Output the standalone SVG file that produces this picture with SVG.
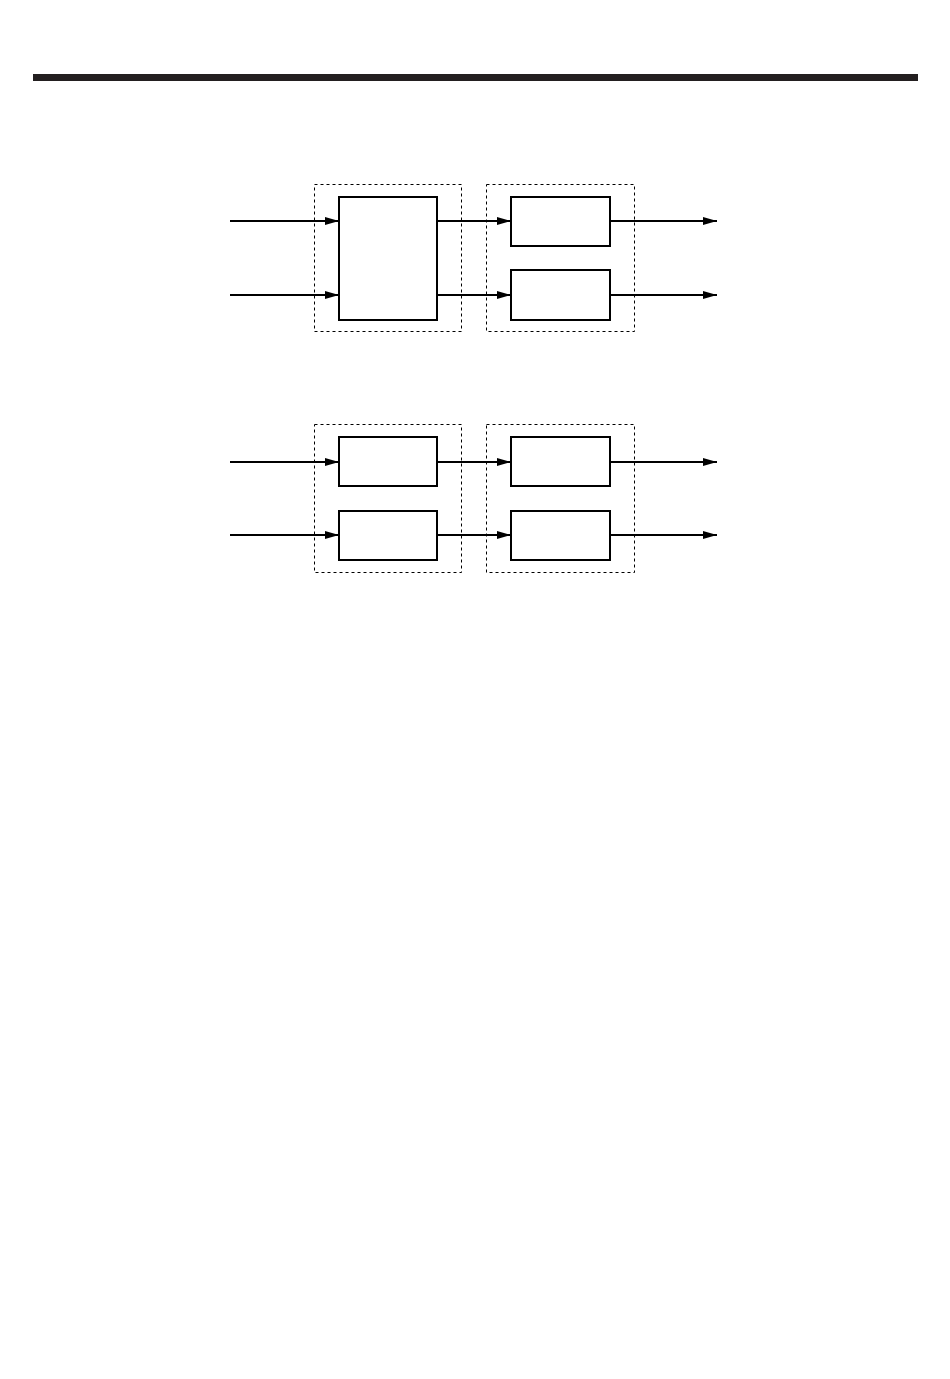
<svg xmlns="http://www.w3.org/2000/svg" width="950" height="1379" viewBox="0 0 950 1379">
<style>
.blk{fill:#fff;stroke:#000;stroke-width:2}
.grp{fill:none;stroke:#000;stroke-width:1;stroke-dasharray:3,3}
.wire{fill:none;stroke:#000;stroke-width:2}
</style>
<defs>
<marker id="ah" viewBox="0 0 14 8" refX="14" refY="4" markerWidth="14" markerHeight="8" markerUnits="userSpaceOnUse" orient="auto">
<path d="M0,0 L14,4 L0,8 Z" fill="#000"/>
</marker>
</defs>
<rect width="950" height="1379" fill="#fff"/>
<rect id="topbar" x="33" y="74" width="885" height="7" fill="#231f20"/>
<g id="top-group1"><rect class="grp" x="314.5" y="184.5" width="147" height="147"/></g>
<g id="top-group2"><rect class="grp" x="486.5" y="184.5" width="148" height="147"/></g>
<g id="top-big"><rect class="blk" x="339" y="197" width="98" height="123"/></g>
<g id="top-r1"><rect class="blk" x="511" y="197" width="99" height="49"/></g>
<g id="top-r2"><rect class="blk" x="511" y="270" width="99" height="50"/></g>
<g id="bot-group1"><rect class="grp" x="314.5" y="424.5" width="147" height="148"/></g>
<g id="bot-group2"><rect class="grp" x="486.5" y="424.5" width="148" height="148"/></g>
<g id="bot-l1"><rect class="blk" x="339" y="437" width="98" height="49"/></g>
<g id="bot-l2"><rect class="blk" x="339" y="511" width="98" height="49"/></g>
<g id="bot-r1"><rect class="blk" x="511" y="437" width="99" height="49"/></g>
<g id="bot-r2"><rect class="blk" x="511" y="511" width="99" height="49"/></g>
<g id="connectors">
<line class="wire" x1="230" y1="221" x2="339" y2="221" marker-end="url(#ah)"/>
<line class="wire" x1="230" y1="295" x2="339" y2="295" marker-end="url(#ah)"/>
<line class="wire" x1="437" y1="221" x2="511" y2="221" marker-end="url(#ah)"/>
<line class="wire" x1="437" y1="295" x2="511" y2="295" marker-end="url(#ah)"/>
<line class="wire" x1="610" y1="221" x2="717" y2="221" marker-end="url(#ah)"/>
<line class="wire" x1="610" y1="295" x2="717" y2="295" marker-end="url(#ah)"/>
<line class="wire" x1="230" y1="462" x2="339" y2="462" marker-end="url(#ah)"/>
<line class="wire" x1="230" y1="535" x2="339" y2="535" marker-end="url(#ah)"/>
<line class="wire" x1="437" y1="462" x2="511" y2="462" marker-end="url(#ah)"/>
<line class="wire" x1="437" y1="535" x2="511" y2="535" marker-end="url(#ah)"/>
<line class="wire" x1="610" y1="462" x2="717" y2="462" marker-end="url(#ah)"/>
<line class="wire" x1="610" y1="535" x2="717" y2="535" marker-end="url(#ah)"/>
</g>
</svg>
